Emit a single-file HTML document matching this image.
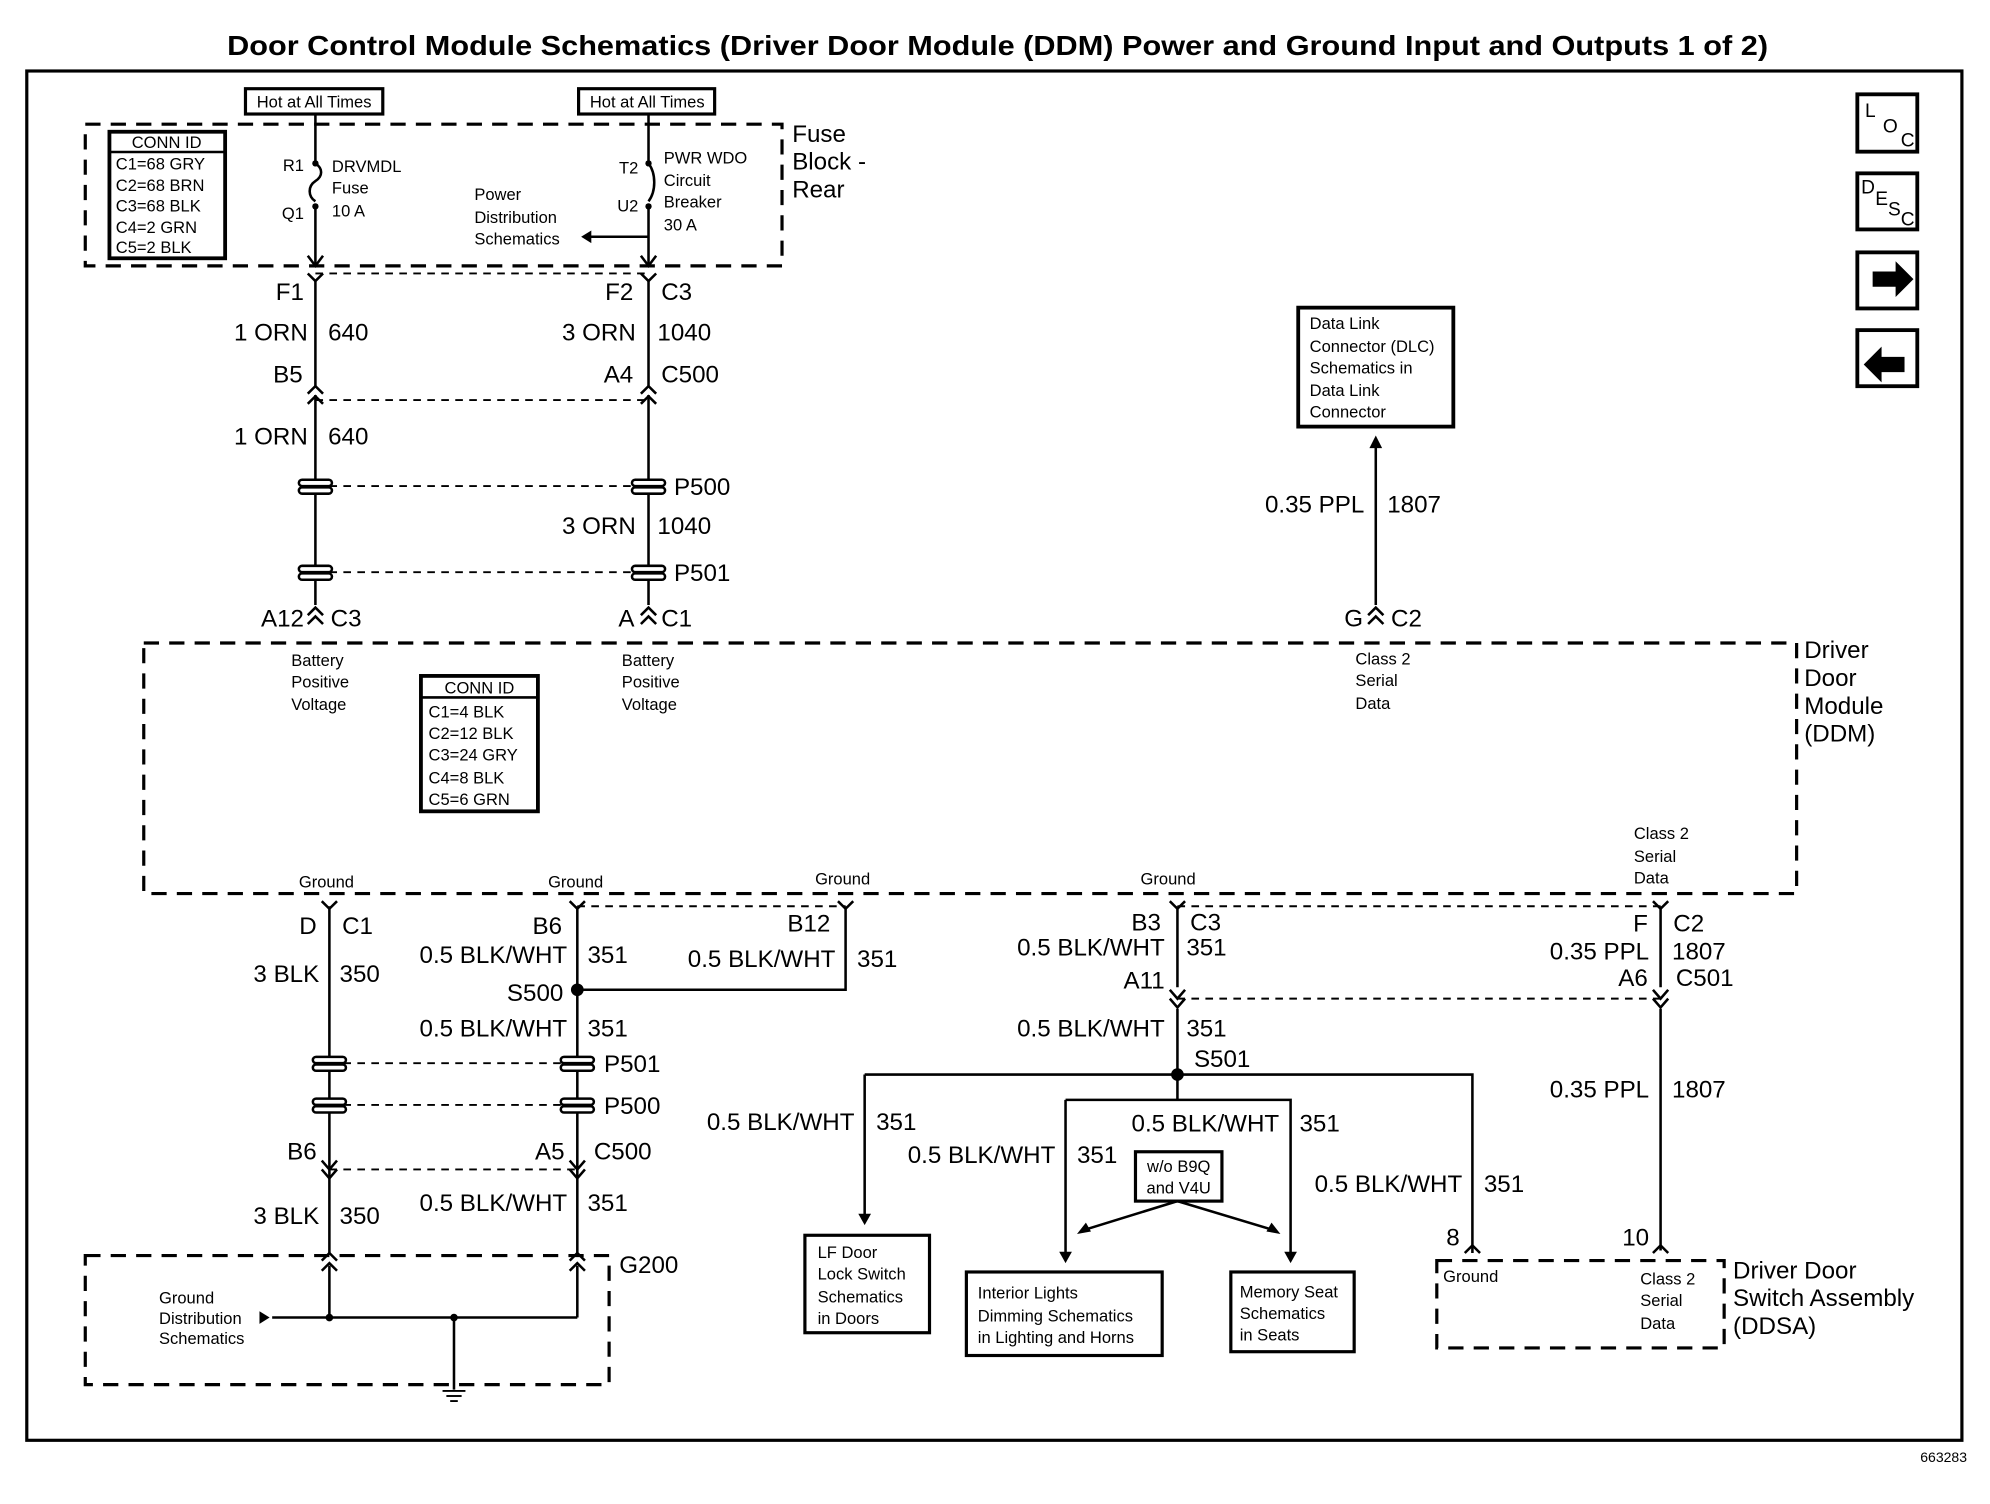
<!DOCTYPE html>
<html><head><meta charset="utf-8"><style>
html,body{margin:0;padding:0;background:#fff}
svg{display:block}
text{font-family:"Liberation Sans",sans-serif;fill:#000}
.b{font-size:19px}
.s{font-size:13px}
.t{font-size:22px;font-weight:bold}
</style></head><body>
<svg width="1990" height="1504" viewBox="0 0 1560 1180" preserveAspectRatio="none" xmlns="http://www.w3.org/2000/svg">
<text class="t" x="782" y="43" text-anchor="middle" textLength="1208" lengthAdjust="spacingAndGlyphs">Door Control Module Schematics (Driver Door Module (DDM) Power and Ground Input and Outputs 1 of 2)</text>
<text x="1542" y="1147" text-anchor="end" font-size="11">663283</text>
<g fill="none" stroke="#000" stroke-width="3">
<rect x="1456" y="74" width="47" height="45"/>
<rect x="1456" y="136" width="47" height="44"/>
<rect x="1456" y="198" width="47" height="44"/>
<rect x="1456" y="259" width="47" height="44"/>
</g>
<text x="1462" y="92" font-size="15">L</text><text x="1476" y="104" font-size="15">O</text><text x="1490" y="115" font-size="15">C</text>
<text x="1459" y="152" font-size="15">D</text><text x="1470" y="161" font-size="15">E</text><text x="1480" y="169" font-size="15">S</text><text x="1490" y="177" font-size="15">C</text>
<g fill="#000"><path d="M1468 213 h18 v-8 l14 14 l-14 14 v-8 h-18z"/><path d="M1493 286 h-18 v-8 l-14 14 l14 14 v-8 h18z" transform="translate(0,-6)"/></g>
<g transform="translate(21,55.7) scale(0.9967,0.9929) translate(-22,-56)">
<g fill="none" stroke="#000" stroke-width="2">
<rect x="22" y="56" width="1522" height="1082" stroke-width="2.5"/>
<g stroke-dasharray="12,8" stroke-width="2.5">
<rect x="68" y="98" width="548" height="112"/>
<rect x="114" y="508" width="1300" height="198"/>
<rect x="68" y="992" width="412" height="102"/>
<rect x="1131" y="996" width="226" height="69"/>
</g>
<g stroke-dasharray="6,5" stroke-width="1.5">
<line x1="249" y1="216" x2="511" y2="216"/>
<line x1="249" y1="316" x2="511" y2="316"/>
<line x1="249" y1="384" x2="511" y2="384"/>
<line x1="249" y1="452" x2="511" y2="452"/>
<line x1="455" y1="716" x2="666" y2="716"/>
<line x1="927" y1="716" x2="1307" y2="716"/>
<line x1="260" y1="840" x2="455" y2="840"/>
<line x1="260" y1="873" x2="455" y2="873"/>
<line x1="260" y1="924" x2="455" y2="924"/>
<line x1="927" y1="789" x2="1307" y2="789"/>
</g>
<rect x="87" y="104" width="91" height="100" stroke-width="3"/>
<line x1="87" y1="120" x2="178" y2="120"/>
<rect x="194" y="70" width="108" height="20" stroke-width="2.5"/>
<rect x="456" y="70" width="107" height="20" stroke-width="2.5"/>
<rect x="332" y="534" width="92" height="107" stroke-width="3"/>
<line x1="332" y1="551" x2="424" y2="551"/>
<rect x="1022" y="243" width="122" height="94" stroke-width="3"/>
<rect x="634" y="976" width="98" height="77" stroke-width="2.5"/>
<rect x="761" y="1005" width="154" height="66" stroke-width="2.5"/>
<rect x="969" y="1005" width="97" height="63" stroke-width="2.5"/>
<rect x="894" y="910" width="68" height="39" stroke-width="2.5"/>
<path d="M249 90 V127 M249 163 V210 M511 90 V127 M511 163 V210"/>
<path d="M249 129 c6 4 6 10 0 14 c-6 4 -6 12 0 16"/>
<path d="M511 129 c6 8 6 22 0 30"/>
<path d="M511 187 H462"/>
<path d="M249 222 V305 M511 222 V305 M249 312 V478 M511 312 V478"/>
<path d="M1083 350 V478"/>
<path d="M260 716 V990 M455 716 V990 M666 716 V782 H455 M927 716 V780 M927 797 V849 M681 849 H1159 V990 M681 849 V962 M839 869 H1016 V992 M839 869 V992 M927 849 V869 M1307 716 V780 M1307 797 V988"/>
<path d="M260 1000 V1041 M455 1000 V1041 M215 1041 H455 M358 1041 V1098"/>
<path d="M927 949 L853 972 M927 949 L1003 972"/>
</g>
<g stroke="#000" stroke-width="1.5"><line x1="349" y1="1099" x2="367" y2="1099"/><line x1="352" y1="1103" x2="364" y2="1103"/><line x1="355" y1="1107" x2="361" y2="1107"/></g>
<g fill="none" stroke="#000" stroke-width="2">
<path d="M243 202 L249 210 L255 202 M505 202 L511 210 L517 202"/>
<path d="M243 216 L249 222 L255 216 M505 216 L511 222 L517 216"/>
<path d="M243 311 L249 305 L255 311 M505 311 L511 305 L517 311 M243 319 L249 313 L255 319 M505 319 L511 313 L517 319"/>
<path d="M243 486 L249 480 L255 486 M505 486 L511 480 L517 486 M1077 486 L1083 480 L1089 486"/>
<path d="M243 493 L249 487 L255 493 M505 493 L511 487 L517 493 M1077 493 L1083 487 L1089 493"/>
<path d="M254 712 L260 718 L266 712 M449 712 L455 718 L461 712 M660 712 L666 718 L672 712 M921 712 L927 718 L933 712 M1301 712 L1307 718 L1313 712"/>
<path d="M921 782 L927 789 L933 782 M921 789 L927 796 L933 789 M1301 782 L1307 789 L1313 782 M1301 789 L1307 796 L1313 789"/>
<path d="M254 917 L260 924 L266 917 M254 924 L260 931 L266 924 M449 924 L455 931 L461 924 M449 917 L455 924 L461 917"/>
<path d="M254 996 L260 990 L266 996 M449 996 L455 990 L461 996 M254 1004 L260 998 L266 1004 M449 1004 L455 998 L461 1004"/>
<path d="M1153 990 L1159 984 L1165 990 M1301 990 L1307 984 L1313 990"/>
</g>
<g fill="#000" stroke="none">
<path d="M458 187 l8 -5 v10z"/>
<path d="M1083 344 l-5 10 h10z"/>
<path d="M681 968 l-5 -9 h10z"/>
<path d="M839 998 l-5 -9 h10z"/>
<path d="M1016 998 l-5 -9 h10z"/>
<path d="M848 975 l7 -9 l4 7z"/>
<path d="M1008 975 l-11 -2 l4 -7z"/>
<path d="M213 1041 l-8 -5 v10z"/>
<circle cx="455" cy="782" r="5"/><circle cx="927" cy="849" r="5"/>
<circle cx="260" cy="1041" r="3"/><circle cx="358" cy="1041" r="3"/>
<circle cx="249" cy="129" r="2.5"/><circle cx="249" cy="163" r="2.5"/><circle cx="511" cy="129" r="2.5"/><circle cx="511" cy="163" r="2.5"/>
</g>
<g fill="#fff" stroke="#000" stroke-width="2">
<rect x="236" y="379" width="26" height="5" rx="2.5"/><rect x="236" y="385" width="26" height="5" rx="2.5"/>
<rect x="498" y="379" width="26" height="5" rx="2.5"/><rect x="498" y="385" width="26" height="5" rx="2.5"/>
<rect x="236" y="447" width="26" height="5" rx="2.5"/><rect x="236" y="453" width="26" height="5" rx="2.5"/>
<rect x="498" y="447" width="26" height="5" rx="2.5"/><rect x="498" y="453" width="26" height="5" rx="2.5"/>
<rect x="247" y="835" width="26" height="5" rx="2.5"/><rect x="247" y="841" width="26" height="5" rx="2.5"/>
<rect x="442" y="835" width="26" height="5" rx="2.5"/><rect x="442" y="841" width="26" height="5" rx="2.5"/>
<rect x="247" y="868" width="26" height="5" rx="2.5"/><rect x="247" y="874" width="26" height="5" rx="2.5"/>
<rect x="442" y="868" width="26" height="5" rx="2.5"/><rect x="442" y="874" width="26" height="5" rx="2.5"/>
</g>
<text class="s" x="248" y="85" text-anchor="middle">Hot at All Times</text>
<text class="s" x="510" y="85" text-anchor="middle">Hot at All Times</text>
<g class="s">
<text x="132" y="117" text-anchor="middle">CONN ID</text>
<text x="92" y="134">C1=68 GRY</text><text x="92" y="151">C2=68 BRN</text><text x="92" y="167">C3=68 BLK</text><text x="92" y="184">C4=2 GRN</text><text x="92" y="200">C5=2 BLK</text>
<text x="240" y="135" text-anchor="end">R1</text><text x="240" y="173" text-anchor="end">Q1</text>
<text x="262" y="136">DRVMDL</text><text x="262" y="153">Fuse</text><text x="262" y="171">10 A</text>
<text x="503" y="137" text-anchor="end">T2</text><text x="503" y="167" text-anchor="end">U2</text>
<text x="523" y="129">PWR WDO</text><text x="523" y="147">Circuit</text><text x="523" y="164">Breaker</text><text x="523" y="182">30 A</text>
<text x="374" y="158">Power</text><text x="374" y="176">Distribution</text><text x="374" y="193">Schematics</text>
<text x="230" y="526">Battery</text><text x="230" y="543">Positive</text><text x="230" y="561">Voltage</text>
<text x="490" y="526">Battery</text><text x="490" y="543">Positive</text><text x="490" y="561">Voltage</text>
<text x="1067" y="525">Class 2</text><text x="1067" y="542">Serial</text><text x="1067" y="560">Data</text>
<text x="378" y="548" text-anchor="middle">CONN ID</text>
<text x="338" y="567">C1=4 BLK</text><text x="338" y="584">C2=12 BLK</text><text x="338" y="601">C3=24 GRY</text><text x="338" y="619">C4=8 BLK</text><text x="338" y="636">C5=6 GRN</text>
<text x="1286" y="663">Class 2</text><text x="1286" y="681">Serial</text><text x="1286" y="698">Data</text>
<text x="236" y="701">Ground</text><text x="432" y="701">Ground</text><text x="642" y="699">Ground</text><text x="898" y="699">Ground</text>
<text x="1031" y="260">Data Link</text><text x="1031" y="278">Connector (DLC)</text><text x="1031" y="295">Schematics in</text><text x="1031" y="313">Data Link</text><text x="1031" y="330">Connector</text>
<text x="126" y="1030">Ground</text><text x="126" y="1046">Distribution</text><text x="126" y="1062">Schematics</text>
<text x="644" y="994">LF Door</text><text x="644" y="1011">Lock Switch</text><text x="644" y="1029">Schematics</text><text x="644" y="1046">in Doors</text>
<text x="770" y="1026">Interior Lights</text><text x="770" y="1044">Dimming Schematics</text><text x="770" y="1061">in Lighting and Horns</text>
<text x="976" y="1025">Memory Seat</text><text x="976" y="1042">Schematics</text><text x="976" y="1059">in Seats</text>
<text x="928" y="926" text-anchor="middle">w/o B9Q</text><text x="928" y="943" text-anchor="middle">and V4U</text>
<text x="1136" y="1013">Ground</text>
<text x="1291" y="1015">Class 2</text><text x="1291" y="1032">Serial</text><text x="1291" y="1050">Data</text>
</g>
<g class="b">
<text x="624" y="112">Fuse</text><text x="624" y="134">Block -</text><text x="624" y="156">Rear</text>
<text x="1420" y="520">Driver</text><text x="1420" y="542">Door</text><text x="1420" y="564">Module</text><text x="1420" y="586">(DDM)</text>
<text x="1364" y="1010">Driver Door</text><text x="1364" y="1032">Switch Assembly</text><text x="1364" y="1054">(DDSA)</text>
<text x="240" y="237" text-anchor="end">F1</text><text x="499" y="237" text-anchor="end">F2</text><text x="521" y="237">C3</text>
<text x="243" y="269" text-anchor="end">1 ORN</text><text x="259" y="269">640</text>
<text x="501" y="269" text-anchor="end">3 ORN</text><text x="518" y="269">1040</text>
<text x="239" y="302" text-anchor="end">B5</text><text x="499" y="302" text-anchor="end">A4</text><text x="521" y="302">C500</text>
<text x="243" y="351" text-anchor="end">1 ORN</text><text x="259" y="351">640</text>
<text x="531" y="391">P500</text>
<text x="501" y="422" text-anchor="end">3 ORN</text><text x="518" y="422">1040</text>
<text x="531" y="459">P501</text>
<text x="240" y="495" text-anchor="end">A12</text><text x="261" y="495">C3</text>
<text x="500" y="495" text-anchor="end">A</text><text x="521" y="495">C1</text>
<text x="1074" y="405" text-anchor="end">0.35 PPL</text><text x="1092" y="405">1807</text>
<text x="1073" y="495" text-anchor="end">G</text><text x="1095" y="495">C2</text>
<text x="250" y="738" text-anchor="end">D</text><text x="270" y="738">C1</text>
<text x="252" y="776" text-anchor="end">3 BLK</text><text x="268" y="776">350</text>
<text x="443" y="738" text-anchor="end">B6</text>
<text x="447" y="761" text-anchor="end">0.5 BLK/WHT</text><text x="463" y="761">351</text>
<text x="654" y="736" text-anchor="end">B12</text>
<text x="658" y="764" text-anchor="end">0.5 BLK/WHT</text><text x="675" y="764">351</text>
<text x="444" y="791" text-anchor="end">S500</text>
<text x="447" y="819" text-anchor="end">0.5 BLK/WHT</text><text x="463" y="819">351</text>
<text x="476" y="847">P501</text><text x="476" y="880">P500</text>
<text x="250" y="916" text-anchor="end">B6</text><text x="445" y="916" text-anchor="end">A5</text><text x="468" y="916">C500</text>
<text x="252" y="967" text-anchor="end">3 BLK</text><text x="268" y="967">350</text>
<text x="447" y="957" text-anchor="end">0.5 BLK/WHT</text><text x="463" y="957">351</text>
<text x="488" y="1006">G200</text>
<text x="914" y="735" text-anchor="end">B3</text><text x="937" y="735">C3</text>
<text x="917" y="755" text-anchor="end">0.5 BLK/WHT</text><text x="934" y="755">351</text>
<text x="917" y="781" text-anchor="end">A11</text>
<text x="917" y="819" text-anchor="end">0.5 BLK/WHT</text><text x="934" y="819">351</text>
<text x="940" y="843">S501</text>
<text x="673" y="893" text-anchor="end">0.5 BLK/WHT</text><text x="690" y="893">351</text>
<text x="831" y="919" text-anchor="end">0.5 BLK/WHT</text><text x="848" y="919">351</text>
<text x="1007" y="894" text-anchor="end">0.5 BLK/WHT</text><text x="1023" y="894">351</text>
<text x="1151" y="942" text-anchor="end">0.5 BLK/WHT</text><text x="1168" y="942">351</text>
<text x="1297" y="736" text-anchor="end">F</text><text x="1317" y="736">C2</text>
<text x="1298" y="758" text-anchor="end">0.35 PPL</text><text x="1316" y="758">1807</text>
<text x="1297" y="779" text-anchor="end">A6</text><text x="1319" y="779">C501</text>
<text x="1298" y="867" text-anchor="end">0.35 PPL</text><text x="1316" y="867">1807</text>
<text x="1149" y="984" text-anchor="end">8</text><text x="1298" y="984" text-anchor="end">10</text>
</g>
</g>
</svg>
</body></html>
